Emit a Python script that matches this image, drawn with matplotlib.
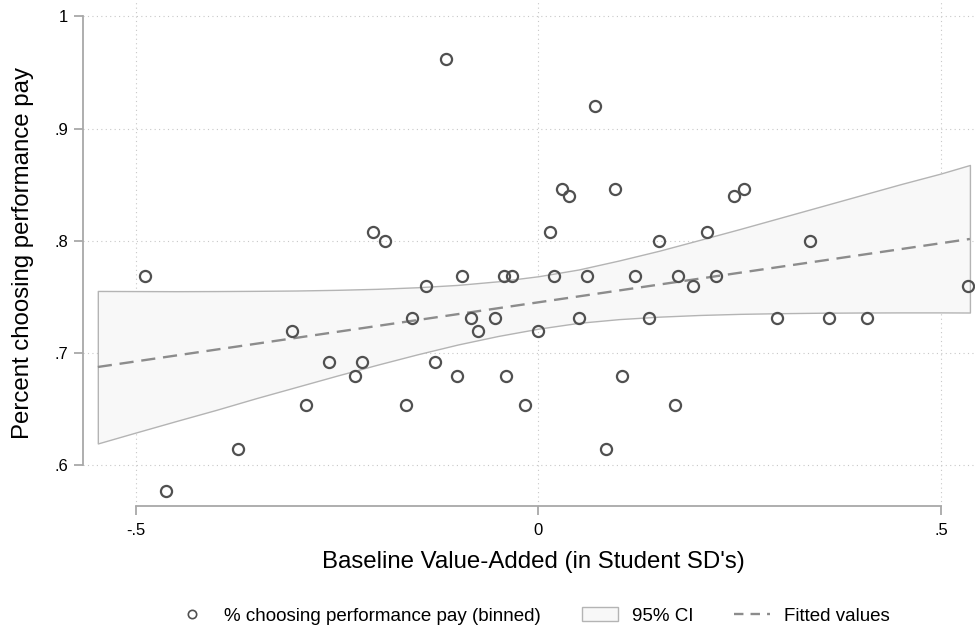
import numpy as np
import matplotlib
matplotlib.use("Agg")
import matplotlib.pyplot as plt
from matplotlib.lines import Line2D
from matplotlib.patches import Patch

plt.rcParams["font.family"] = ["Liberation Sans", "DejaVu Sans"]

# binned scatter: baseline value-added vs share choosing performance pay
va_bin = [-0.489, -0.462, -0.373, -0.306, -0.288, -0.260, -0.228, -0.219, -0.205, -0.190,
          -0.164, -0.157, -0.139, -0.128, -0.114, -0.101, -0.095, -0.084, -0.075, -0.054,
          -0.043, -0.040, -0.033, -0.017, 0.000, 0.0145, 0.019, 0.030, 0.0385, 0.051,
          0.060, 0.071, 0.084, 0.095, 0.104, 0.1205, 0.137, 0.150, 0.170, 0.174,
          0.192, 0.2095, 0.221, 0.243, 0.255, 0.297, 0.338, 0.361, 0.408, 0.533]
pct_perf = [0.769, 0.577, 0.615, 0.720, 0.654, 0.692, 0.680, 0.692, 0.808, 0.800,
            0.654, 0.731, 0.760, 0.692, 0.962, 0.680, 0.769, 0.731, 0.720, 0.731,
            0.769, 0.680, 0.769, 0.654, 0.720, 0.808, 0.769, 0.846, 0.840, 0.731,
            0.769, 0.920, 0.615, 0.846, 0.680, 0.769, 0.731, 0.800, 0.654, 0.769,
            0.760, 0.808, 0.769, 0.840, 0.846, 0.731, 0.800, 0.731, 0.731, 0.760]

# fitted values and 95% CI band
fit_x = [-0.547, 0.536]
fit_y = [0.6877, 0.8017]
ci_x = [-0.547, -0.5, -0.45, -0.4, -0.35, -0.3, -0.25, -0.2, -0.15, -0.1, -0.05, 0.0,
        0.05, 0.1, 0.15, 0.2, 0.25, 0.3, 0.35, 0.4, 0.45, 0.5, 0.536]
ci_hi = [0.7554, 0.7553, 0.7552, 0.7553, 0.7555, 0.7558, 0.7564, 0.7573, 0.7587, 0.7608,
         0.7640, 0.7685, 0.7745, 0.7825, 0.7912, 0.8008, 0.8105, 0.8205, 0.8305, 0.8405,
         0.8505, 0.8600, 0.8676]
ci_lo = [0.6196, 0.6293, 0.6395, 0.6495, 0.6600, 0.6700, 0.6800, 0.6897, 0.6990, 0.7077,
         0.7153, 0.7218, 0.7270, 0.7303, 0.7325, 0.7340, 0.7350, 0.7356, 0.7360, 0.7362,
         0.7363, 0.7363, 0.7362]

x_ticks = [-0.5, 0, 0.5]
x_ticklabels = ["-.5", "0", ".5"]
y_ticks = [0.6, 0.7, 0.8, 0.9, 1.0]
y_ticklabels = [".6", ".7", ".8", ".9", "1"]

W, H = 975, 630
fig = plt.figure(figsize=(W / 100, H / 100), dpi=100)
ax = fig.add_axes([83 / W, 1 - 506 / H, 892 / W, 506 / H])

ax.fill_between(ci_x, ci_lo, ci_hi, facecolor="#f8f8f8", edgecolor="#b4b4b4", lw=1.0, zorder=2)
ax.plot(fit_x, fit_y, color="#8c8c8c", lw=1.7, linestyle=(0, (6, 3.3)), zorder=3)
ax.plot(va_bin, pct_perf, "o", ms=8, mfc="none", mec="#505050", mew=1.6, zorder=4)

ax.set_xlim(-0.5654, 0.5423)
ax.set_ylim(0.5639, 1.0145)
ax.set_xticks(x_ticks)
ax.set_xticklabels(x_ticklabels)
ax.set_yticks(y_ticks)
ax.set_yticklabels(y_ticklabels)
ax.grid(True, color="#c8c8c8", lw=0.8, linestyle=(0, (1, 3)))
ax.set_axisbelow(True)

for side in ["top", "right"]:
    ax.spines[side].set_visible(False)
ax.spines["left"].set_bounds(0.6, 1.0)
ax.spines["bottom"].set_bounds(-0.5, 0.5)
for side in ["left", "bottom"]:
    ax.spines[side].set_color("#a8a8a8")
    ax.spines[side].set_linewidth(1.3)
ax.tick_params(axis="both", colors="#a8a8a8", length=6.5, width=1.3,
               labelsize=12, labelcolor="black")
ax.tick_params(axis="y", pad=4)
ax.tick_params(axis="x", pad=6)

ax.set_xlabel("Baseline Value-Added (in Student SD's)", fontsize=17.3)
ax.xaxis.set_label_coords(0.505, -0.088)
ax.set_ylabel("Percent choosing performance pay", fontsize=17.3)
ax.yaxis.set_label_coords(-0.055, 0.5)

handles = [
    Line2D([], [], marker="o", ls="none", ms=6, mfc="none", mec="#505050", mew=1.2),
    Patch(facecolor="#f8f8f8", edgecolor="#b4b4b4", lw=1.0),
    Line2D([], [], color="#8c8c8c", lw=1.7, linestyle=(0, (4, 3))),
]
labels = ["% choosing performance pay (binned)", "95% CI", "Fitted values"]
fig.legend(handles, labels, loc="center", bbox_to_anchor=(532 / W, 1 - 616 / H),
           ncol=3, frameon=False, fontsize=13.5, handlelength=1.9, columnspacing=2.2,
           handletextpad=0.75)

fig.savefig("out.png", dpi=100)
